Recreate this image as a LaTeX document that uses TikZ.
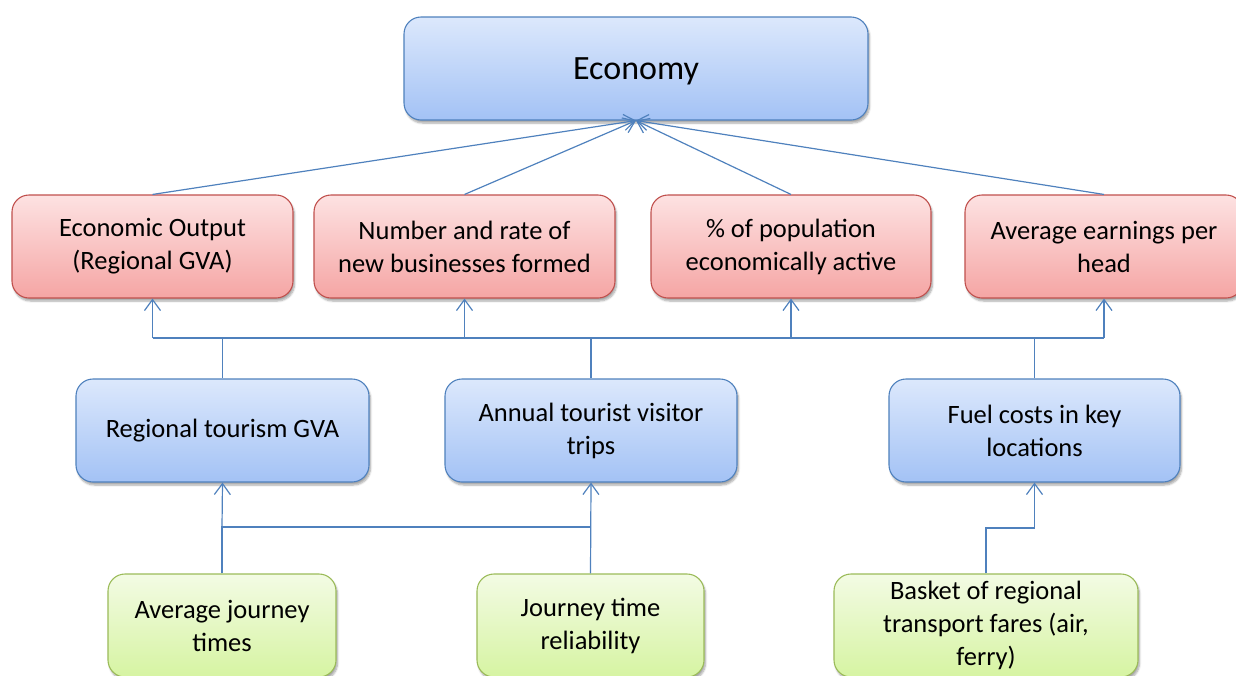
\documentclass[tikz,border=0pt]{standalone}
\usepackage{fontspec}
\setmainfont{Carlito}
\usetikzlibrary{arrows.meta,shadows.blur}
\definecolor{lnc}{HTML}{4F81BD}
\definecolor{bluetop}{HTML}{DCE8FC}
\definecolor{bluebot}{HTML}{A3C2F5}
\definecolor{redtop}{HTML}{FDE2E2}
\definecolor{redbot}{HTML}{F5A5A4}
\definecolor{redln}{HTML}{C0504D}
\definecolor{greentop}{HTML}{F3FBE4}
\definecolor{greenbot}{HTML}{D6F4A2}
\definecolor{greenln}{HTML}{9BBB59}
\tikzset{
  boxbase/.style={rounded corners=17pt, align=center, inner sep=0pt, line width=1.1pt,
    font=\fontsize{26.5}{33}\selectfont,
    blur shadow={shadow xshift=1.5pt, shadow yshift=-3pt, shadow blur steps=6, shadow opacity=35}},
  bluebox/.style={boxbase, draw=lnc, top color=bluetop, bottom color=bluebot},
  redbox/.style={boxbase, draw=redln, top color=redtop, bottom color=redbot},
  greenbox/.style={boxbase, draw=greenln, top color=greentop, bottom color=greenbot},
  conn/.style={draw=lnc, line width=1.2pt},
  arr/.style={conn, -{Straight Barb[length=11pt,width=16pt,line width=1.2pt]}}
}
\begin{document}
\begin{tikzpicture}[x=1pt,y=-1pt]
\useasboundingbox (0,0) rectangle (1236,675);
% top
\node[bluebox, minimum width=464pt, minimum height=103pt, text height=22pt, text depth=0pt, font=\fontsize{34}{40}\selectfont] (eco) at (636,68.5) {Economy};
% red row
\node[redbox, minimum width=281pt, minimum height=103pt] (r1) at (152.5,246.5) {Economic Output\\(Regional GVA)};
\node[redbox, minimum width=301pt, minimum height=103pt] (r2) at (464.5,246.5) {Number and rate of\\new businesses formed};
\node[redbox, minimum width=280pt, minimum height=103pt] (r3) at (791,246.5) {\% of population\\economically active};
\node[redbox, minimum width=278pt, minimum height=103pt] (r4) at (1104,246.5) {Average earnings per\\head};
% blue row
\node[bluebox, minimum width=293pt, minimum height=103pt] (rt) at (222.5,430.5) {Regional tourism GVA};
\node[bluebox, minimum width=292pt, minimum height=103pt] (atv) at (591,430.5) {Annual tourist visitor\\trips};
\node[bluebox, minimum width=291pt, minimum height=103pt] (fuel) at (1034.5,430.5) {Fuel costs in key\\locations};
% green row
\node[greenbox, minimum width=228pt, minimum height=103pt] (ajt) at (222,625.5) {Average journey\\times};
\node[greenbox, minimum width=227pt, minimum height=103pt] (jtr) at (590.5,625.5) {Journey time\\reliability};
\node[greenbox, minimum width=304pt, minimum height=103pt] (bask) at (986,625.5) {Basket of regional\\transport fares (air,\\ferry)};
% coordinates for buses
\coordinate (busup) at (0,338);
\coordinate (buslo) at (0,527);
\coordinate (busfu) at (0,528);
% to economy
\draw[arr] (r1.north) -- (eco.south);
\draw[arr] (r2.north) -- (eco.south);
\draw[arr] (r3.north) -- (eco.south);
\draw[arr] (r4.north) -- (eco.south);
% upper bus
\draw[conn] (r1.south|-busup) -- (r4.south|-busup);
\draw[arr] (r1.south|-busup) -- (r1.south);
\draw[arr] (r2.south|-busup) -- (r2.south);
\draw[arr] (r3.south|-busup) -- (r3.south);
\draw[arr] (r4.south|-busup) -- (r4.south);
\draw[conn] (rt.north) -- (rt.north|-busup);
\draw[conn] (atv.north) -- (atv.north|-busup);
\draw[conn] (fuel.north) -- (fuel.north|-busup);
% lower bus
\draw[conn] (ajt.north) -- (ajt.north|-buslo) -- (jtr.north|-buslo);
\draw[arr] (ajt.north|-buslo) -- (rt.south);
\draw[arr] (jtr.north) -- (atv.south);
\draw[arr] (bask.north) -- (bask.north|-busfu) -| (fuel.south);
\end{tikzpicture}
\end{document}
